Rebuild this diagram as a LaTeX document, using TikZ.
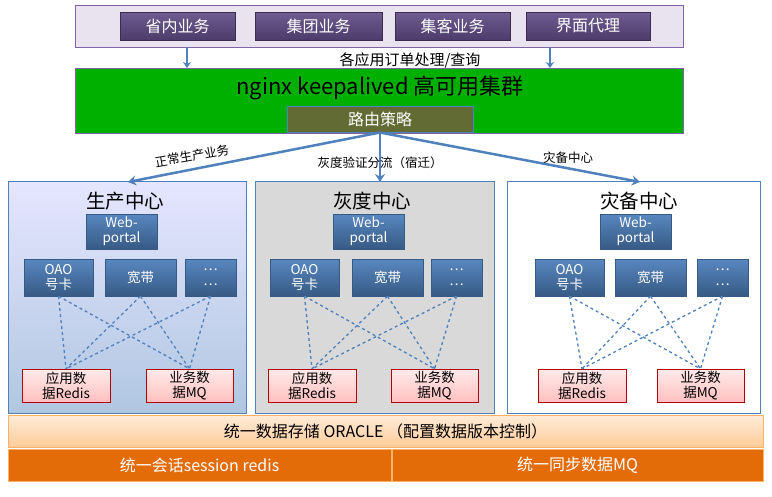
\documentclass[tikz,border=0pt]{standalone}
\usepackage{fontspec}
\setmainfont{Noto Sans CJK SC}
\usetikzlibrary{arrows.meta}
\definecolor{bluebd}{HTML}{4F81BD}
\definecolor{purp}{HTML}{8064A2}
\definecolor{dpurp}{HTML}{5F4A85}
\definecolor{borng}{HTML}{E36C09}
\tikzset{
 px/.style={x=1pt,y=-1pt},
 pbtn/.style={draw=dpurp!60!black,top color=dpurp!90,bottom color=dpurp!80!black,text=white,font=\fontsize{16}{18}\selectfont,inner sep=0},
 bbox/.style={draw=bluebd!70!black,top color=bluebd!95,bottom color=bluebd!70!black,text=white,font=\fontsize{13.5}{15}\selectfont,inner sep=0,align=center},
 rbox/.style={draw=red!70!black,top color=red!8,bottom color=red!25,font=\fontsize{13.5}{15}\selectfont,inner sep=0,align=center},
 center/.style={draw=bluebd,line width=1pt},
 dl/.style={dashed,draw=bluebd,line width=1.3pt},
 barr/.style={draw=bluebd,line width=2.5pt,-{Stealth[length=8pt,width=10pt]}},
 lab/.style={font=\fontsize{12.5}{14}\selectfont},
}
\newcommand{\boxat}[5]{\node[#1,minimum width=#4pt-#2pt,minimum height=#5pt-#3pt] at ({(#2+#4)/2},{(#3+#5)/2})}
\begin{document}
\begin{tikzpicture}[px]
\useasboundingbox (0,0) rectangle (772,496);
% top
\node[draw=purp,line width=1pt,fill=purp!18,minimum width=608pt,minimum height=42pt,inner sep=0] (top) at (379,26) {};
\boxat{pbtn}{120}{12}{235}{40} (b1) {省内业务};
\boxat{pbtn}{255}{12}{382}{40} (b2) {集团业务};
\boxat{pbtn}{395}{12}{510}{40} (b3) {集客业务};
\boxat{pbtn}{526}{12}{650}{40} (b4) {界面代理};
% nginx
\node[draw=purp,line width=1pt,fill=green!69!black,minimum width=608pt,minimum height=65pt,inner sep=0] (ng) at (379,100.5) {};
\node[font=\fontsize{22}{24}\selectfont] (ngt) at (380,88) {nginx keepalived 高可用集群};
\coordinate (a1s) at (187,47); \coordinate (a1e) at (187,68);
\coordinate (a2s) at (550,47); \coordinate (a2e) at (550,68);
\draw[draw=bluebd,line width=2pt,-{Stealth[length=6pt,width=8pt]}] (a1s) -- (a1e);
\draw[draw=bluebd,line width=2pt,-{Stealth[length=6pt,width=8pt]}] (a2s) -- (a2e);
\node[font=\fontsize{15}{17}\selectfont] (ql) at (410,60) {各应用订单处理/查询};
\boxat{draw=bluebd,line width=1pt,fill=olive!70!green!60!black,text=white,font=\fontsize{16}{18}\selectfont,inner sep=0}{287}{106}{473}{132} (rt) {路由策略};
% centers
\boxat{center,top color=blue!10,bottom color=bluebd!45}{8}{181}{246}{413} (c1) {};
\boxat{center,fill=gray!30}{255}{181}{494}{413} (c2) {};
\boxat{center,fill=white}{507}{181}{760}{413} (c3) {};
\coordinate (e1) at (128,182); \coordinate (e2) at (380,182); \coordinate (e3) at (640,182);
\draw[barr] (rt.south) -- (e1);
\draw[barr] (rt.south) -- (e2);
\draw[barr] (rt.south) -- (e3);
\node[lab,rotate=10] (l1) at (192,156) {正常生产业务};
\node[lab] (l2) at (380,163) {灰度验证分流（宿迁）};
\node[lab] (l3) at (568,158) {灾备中心};
\foreach \n/\dx/\t in {1/0/生产中心,2/247/灰度中心,3/514/灾备中心}{
 \node[font=\fontsize{19.5}{21}\selectfont] (t\n) at (125+\dx,201) {\t};
}
% center contents
\foreach \n/\w/\o/\k/\d/\r/\m in {1/86/24/105/185/22/146, 2/333/270/352/431/268/391, 3/600/535/615/697/538/657}{
 \node[bbox,minimum width=71pt,minimum height=35pt] (w\n) at (\w+35.5,231.5) {Web-\\portal};
 \node[bbox,minimum width=69pt,minimum height=37pt] (o\n) at (\o+34.5,277.5) {OAO\\号卡};
 \node[bbox,minimum width=71pt,minimum height=37pt] (k\n) at (\k+35.5,277.5) {宽带};
 \node[bbox,minimum width=51pt,minimum height=37pt] (d\n) at (\d+25.5,277.5) {…\\…};
 \node[rbox,minimum width=88pt,minimum height=33pt] (r\n) at (\r+44,385.5) {应用数\\据Redis};
 \node[rbox,minimum width=87pt,minimum height=33pt] (m\n) at (\m+43.5,385.5) {业务数\\据MQ};
 \foreach \a in {o\n,k\n,d\n}{
  \draw[dl] (\a.south) -- (r\n.north);
  \draw[dl] (\a.south) -- (m\n.north);
 }
}
% bottom bars
\boxat{draw=orange!60!white,top color=orange!15,bottom color=orange!40,font=\fontsize{16}{18}\selectfont,inner sep=0}{8}{415}{763}{447} (or) {统一数据存储 ORACLE （配置数据版本控制）};
\boxat{draw=orange!60!white,fill=borng,text=white,font=\fontsize{16}{18}\selectfont,inner sep=0}{8}{449}{391}{481} (s1) {统一会话session redis};
\boxat{draw=orange!60!white,fill=borng,text=white,font=\fontsize{16}{18}\selectfont,inner sep=0}{392}{449}{763}{481} (s2) {统一同步数据MQ};
\end{tikzpicture}
\end{document}
